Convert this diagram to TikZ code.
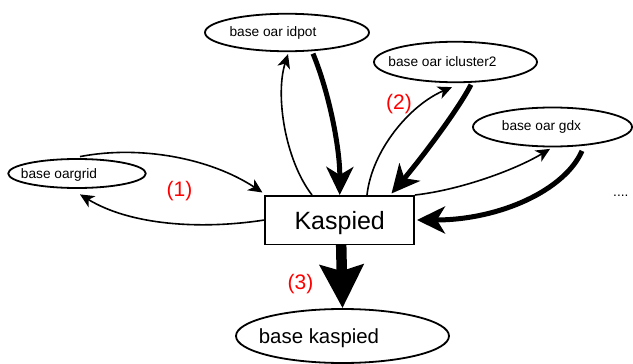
\documentclass[tikz,border=0pt]{standalone}
\usepackage{fontspec}
\setmainfont{Liberation Sans}
\usetikzlibrary{arrows.meta,shapes.geometric,calc}
\newcommand{\txtleft}[2]{\makebox[0pt]{#2\hspace*{#1}}}
\begin{document}
\begin{tikzpicture}[x=1pt,y=-1pt,
  oval/.style={ellipse, draw, line width=1.8pt, inner sep=0pt},
  stxt/.style={font=\fontsize{13.7}{16}\selectfont},
  thinarr/.style={line width=1.6pt, -{Stealth[length=14pt,width=13pt,inset=4pt]}},
  thickarr/.style={line width=5pt, -{Stealth[length=28pt,width=27pt,inset=8pt]}},
  hugearr/.style={line width=10.5pt, -{Stealth[length=43pt,width=43pt,inset=6pt]}},
  redlbl/.style={text=red, font=\fontsize{21}{25}\selectfont, inner sep=0pt}]
\useasboundingbox (0,0) rectangle (633,364);

\node[draw, line width=1.5pt, minimum width=149pt, minimum height=48.5pt, inner sep=0pt, text depth=0pt, font=\fontsize{25}{30}\selectfont] (kasp) at (339.7,220) {Kaspied};
\node[oval, stxt, minimum width=164pt, minimum height=37.5pt] (idpot) at (287,32.5) {\txtleft{28pt}{base oar idpot}};
\node[oval, stxt, minimum width=163pt, minimum height=40.5pt] (iclus) at (455.5,62) {\txtleft{26pt}{base oar icluster2}};
\node[oval, stxt, minimum width=159pt, minimum height=39pt] (gdx) at (552.5,127) {\txtleft{22pt}{base oar gdx}};
\node[oval, stxt, minimum width=137.5pt, minimum height=29pt, text depth=0pt] (oargrid) at (77,173.5) {\txtleft{36pt}{base oargrid}};
\node[oval, minimum width=213pt, minimum height=54pt, text depth=0pt, font=\fontsize{20.4}{24}\selectfont] (bkasp) at (342.5,336) {\txtleft{47pt}{base kaspied}};

\node[redlbl] (l1) at (179.5,191) {(1)};
\node[redlbl] (l2) at (399,104) {(2)};
\node[redlbl] (l3) at (300.5,284) {(3)};
\node[stxt, anchor=base west, inner sep=0pt] (dots) at (613,196.5) {....};

\draw[thinarr] (kasp.west) .. controls (200,230) and (130,225) .. ($(oargrid.south)+(3,5.5)$);
\draw[thinarr] ($(oargrid.north)+(3,-1.5)$) .. controls (140,145) and (210,158) .. ($(kasp.north west)+(-2,-2.5)$);
\draw[thinarr] ($(kasp.north)+(-27.7,0)$) .. controls (285,160) and (275,95) .. ($(idpot.south)+(1,2)$);
\draw[thickarr] ($(idpot.south)+(26,1.5)$) .. controls (330,95) and (340,150) .. (kasp.north);
\draw[thinarr] ($(kasp.north)+(27.3,0)$) .. controls (372,150) and (410,105) .. ($(iclus.south)+(-3.5,4)$);
\draw[thickarr] ($(iclus.south)+(15.5,1.5)$) .. controls (458,110) and (420,160) .. ($(kasp.north)+(51.8,-1.5)$);
\draw[thinarr] (kasp.north east) .. controls (460,190) and (515,170) .. ($(gdx.south)+(-2.5,1.5)$);
\draw[thickarr] ($(gdx.south)+(29.5,3.5)$) .. controls (565,190) and (500,220) .. ($(kasp.east)+(2,0)$);
\draw[hugearr] ($(kasp.south)+(1.5,0)$) -- (bkasp.north);
\end{tikzpicture}
\end{document}
